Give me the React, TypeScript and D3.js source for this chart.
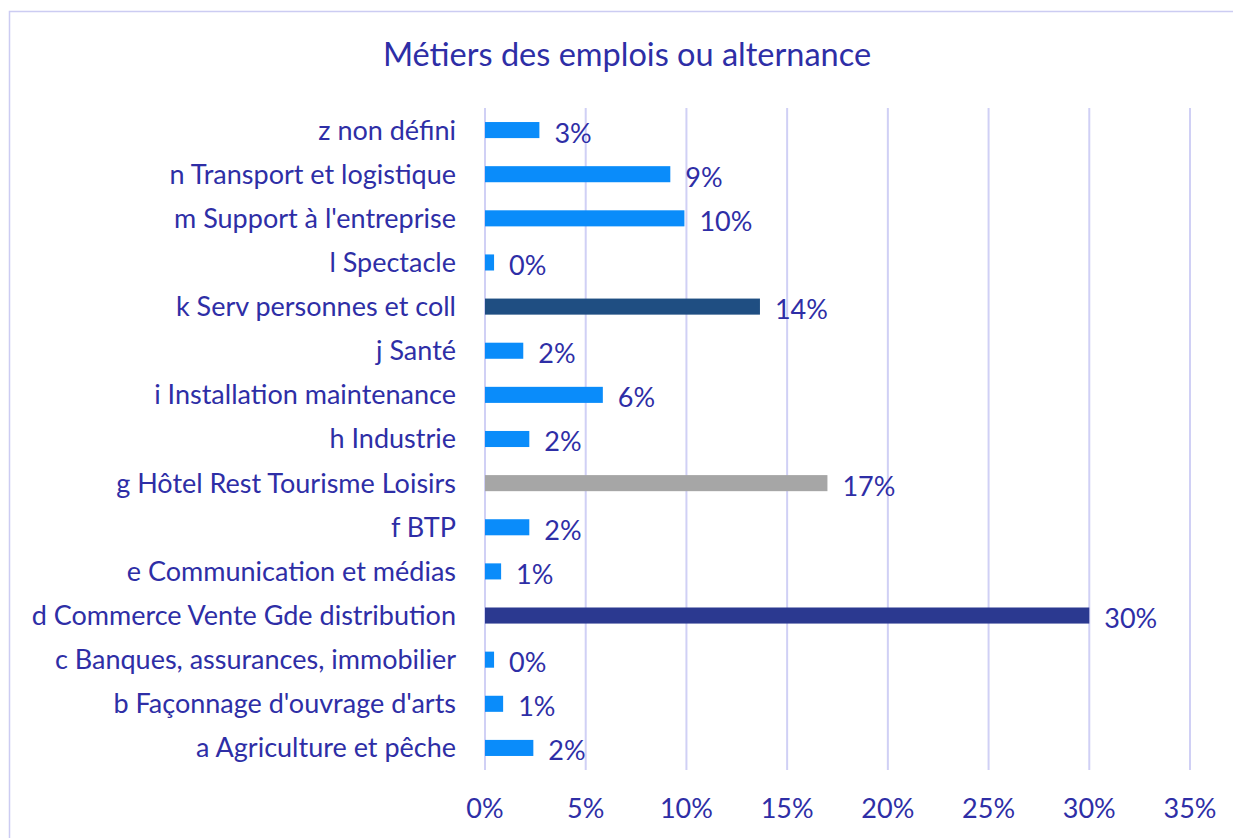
import { useRef, useEffect } from 'react';
import * as d3 from 'd3';

const categories = [
  'z non défini',
  'n Transport et logistique',
  "m Support à l'entreprise",
  'l Spectacle',
  'k Serv personnes et coll',
  'j Santé',
  'i Installation maintenance',
  'h Industrie',
  'g Hôtel Rest Tourisme Loisirs',
  'f BTP',
  'e Communication et médias',
  'd Commerce Vente Gde distribution',
  'c Banques, assurances, immobilier',
  "b Façonnage d'ouvrage d'arts",
  'a Agriculture et pêche',
];

const values = [2.7, 9.2, 9.9, 0.45, 13.65, 1.9, 5.85, 2.2, 17.0, 2.2, 0.8, 30.0, 0.45, 0.9, 2.4];

const valueLabels = ['3%', '9%', '10%', '0%', '14%', '2%', '6%', '2%', '17%', '2%', '1%', '30%', '0%', '1%', '2%'];

const barColors = [
  '#0a8cfa', '#0a8cfa', '#0a8cfa', '#0a8cfa', '#1f4e82',
  '#0a8cfa', '#0a8cfa', '#0a8cfa', '#a6a6a6', '#0a8cfa',
  '#0a8cfa', '#2b3990', '#0a8cfa', '#0a8cfa', '#0a8cfa',
];

const xTicks = [0, 5, 10, 15, 20, 25, 30, 35];

const WIDTH = 1233;
const HEIGHT = 838;
const TEXT = '#2e2ea6';
const FONT = 'Lato, "Open Sans", sans-serif';
const FS = 27;

export default function App() {
  const svgRef = useRef<SVGSVGElement>(null);

  useEffect(() => {
    if (!svgRef.current) return;
    const svg = d3.select(svgRef.current);
    svg.selectAll('*').remove();

    const margin = { top: 108, left: 485, right: 43, bottom: 68 };

    svg.append('rect')
      .attr('x', 9.5).attr('y', 11.5)
      .attr('width', WIDTH).attr('height', HEIGHT)
      .attr('fill', 'white')
      .attr('stroke', '#ccccf2').attr('stroke-width', 1.5);

    svg.append('text')
      .attr('x', 627).attr('y', 66)
      .attr('text-anchor', 'middle')
      .attr('font-family', FONT)
      .attr('font-size', 32.5)
      .attr('fill', TEXT)
      .text('Métiers des emplois ou alternance');

    const x = d3.scaleLinear().domain([0, 35]).range([margin.left, WIDTH - margin.right]);
    const y = d3.scaleBand()
      .domain(categories)
      .range([margin.top, HEIGHT - margin.bottom])
      .paddingInner(0.636)
      .paddingOuter(0.318);

    // gridlines
    svg.append('g')
      .selectAll('line')
      .data(xTicks)
      .join('line')
      .attr('x1', (d) => x(d)).attr('x2', (d) => x(d))
      .attr('y1', margin.top).attr('y2', HEIGHT - margin.bottom)
      .attr('stroke', '#d0d0f5').attr('stroke-width', 2);

    // x tick labels
    svg.append('g')
      .selectAll('text')
      .data(xTicks)
      .join('text')
      .attr('x', (d) => x(d))
      .attr('y', 818)
      .attr('text-anchor', 'middle')
      .attr('font-family', FONT)
      .attr('font-size', FS)
      .attr('fill', TEXT)
      .text((d) => `${d}%`);

    // category labels
    svg.append('g')
      .selectAll('text')
      .data(categories)
      .join('text')
      .attr('x', 456)
      .attr('y', (d) => (y(d) || 0) + y.bandwidth() / 2)
      .attr('dy', '0.35em')
      .attr('text-anchor', 'end')
      .attr('font-family', FONT)
      .attr('font-size', FS)
      .attr('fill', TEXT)
      .text((d) => d);

    // bars
    svg.append('g')
      .selectAll('rect')
      .data(categories)
      .join('rect')
      .attr('x', x(0))
      .attr('y', (d) => y(d) || 0)
      .attr('width', (_d, i) => x(values[i]) - x(0))
      .attr('height', y.bandwidth())
      .attr('fill', (_d, i) => barColors[i]);

    // value labels
    svg.append('g')
      .selectAll('text')
      .data(categories)
      .join('text')
      .attr('x', (_d, i) => x(values[i]) + 15)
      .attr('y', (d) => (y(d) || 0) + y.bandwidth() / 2 + 3)
      .attr('dy', '0.35em')
      .attr('font-family', FONT)
      .attr('font-size', FS)
      .attr('fill', TEXT)
      .text((_d, i) => valueLabels[i]);
  }, []);

  return (
    <svg
      ref={svgRef}
      width={WIDTH}
      height={HEIGHT}
      viewBox={`0 0 ${WIDTH} ${HEIGHT}`}
      style={{ position: 'absolute', left: 0, top: 0, background: 'white' }}
    />
  );
}
